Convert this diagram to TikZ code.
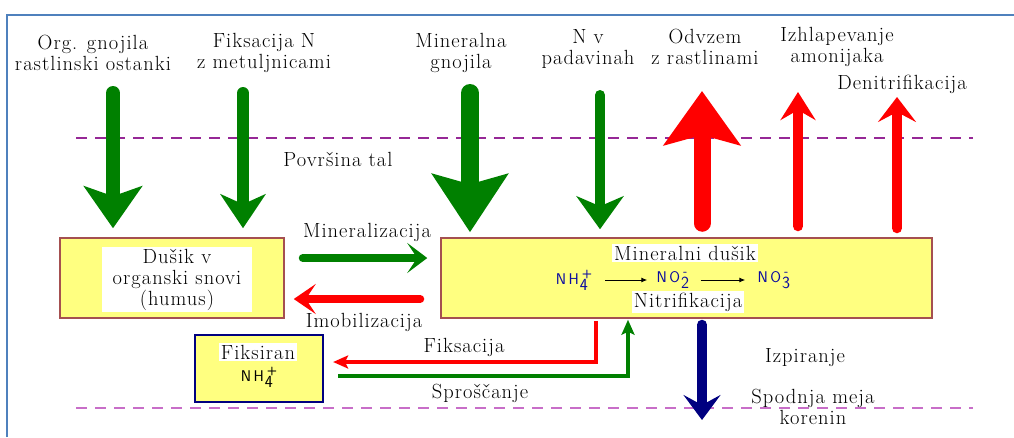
\documentclass[tikz,border=0pt]{standalone}
\usepackage{fontspec}
\setmainfont{Latin Modern Roman}[LetterSpace=5]
\usepackage{tikz}
\usetikzlibrary{arrows.meta,positioning,calc}
\definecolor{addgreen}{RGB}{0,128,0}
\definecolor{lossred}{RGB}{255,0,0}
\definecolor{leachblue}{RGB}{0,0,128}
\definecolor{poolyellow}{RGB}{255,255,128}
\definecolor{poolrim}{RGB}{165,80,80}
\definecolor{framecol}{RGB}{79,129,189}
\definecolor{surfline}{RGB}{150,40,150}
\definecolor{rootline}{RGB}{200,110,200}
\definecolor{ionblue}{RGB}{10,10,160}

\tikzset{
  lbl/.style={font=\fontsize{20.5}{21}\selectfont, align=center, inner sep=0pt},
  whitelbl/.style={lbl, fill=white, inner sep=2pt},
  pool/.style={draw=poolrim, line width=1.5pt, fill=poolyellow},
  ion/.style={font=\fontsize{15.5}{16}\selectfont\sffamily, text=ionblue, inner sep=1pt},
  fat/.style n args={4}{line width=#1pt, line cap=round, #2,
    -{Stealth[length=#3pt, width=#4pt, inset=10pt]}},
  thinflow/.style={line width=4pt, #1, -{Stealth[length=15pt, width=13pt, inset=3pt]}},
  soilline/.style={line width=#1, dash pattern=on 11pt off 8pt}
}
\newcommand{\ionf}[3]{#1\kern1pt\raisebox{-6pt}{\rlap{\fontsize{17}{17}\selectfont #2}}\raisebox{7pt}{\kern2pt\fontsize{12}{12}\selectfont\bfseries #3}\kern4pt}

\begin{document}
\begin{tikzpicture}[x=1pt, y=-1pt]
    \useasboundingbox (0,0) rectangle (1014,437);

    % frame
    \draw[framecol, line width=1.5pt] (7,437) -- (7,15) -- (1014,15);

    % soil surface and root limit
    \draw[surfline, soilline=1.8pt] (76,138) -- (973,138);
    \draw[rootline, soilline=1.5pt] (76,408) -- (973,408);

    % nitrogen pools
    \node[pool, minimum width=224pt, minimum height=80pt] (org) at (172,278) {};
    \node[whitelbl, minimum width=150pt, minimum height=65pt] (orgtxt) at (177,279.5)
        {Dušik v\\organski snovi\\(humus)};
    \node[pool, minimum width=491pt, minimum height=80pt] (min) at (686.5,278) {};
    \node[whitelbl] (mintxt) at (685,253) {Mineralni dušik};
    \node[whitelbl] (nitr) at (688,302) {Nitrifikacija};
    \node[ion] (nh) at (576,280) {\ionf{N\,H}{4}{+}};
    \node[ion] (nob) at (674,280) {\ionf{N\,O}{2}{-}};
    \node[ion] (noc) at (775,280) {\ionf{N\,O}{3}{-}};
    \draw[line width=1pt, -{Latex[length=6pt, width=5pt]}] ([xshift=8pt]nh.east) -- ([xshift=-8pt]nob.west);
    \draw[line width=1pt, -{Latex[length=6pt, width=5pt]}] ([xshift=8pt]nob.east) -- ([xshift=-11pt]noc.west);
    \node[draw=leachblue, line width=2.2pt, fill=poolyellow, minimum width=128pt, minimum height=67pt] (fix) at (259,368.5) {};
    \node[whitelbl] (fixtxt) at (258,352) {Fiksiran};
    \node[ion, text=black] (fixnh) at (261,377) {\ionf{N\,H}{4}{+}};

    % inputs
    \node[lbl] (orgin) at (93,52.5) {Org. gnojila\\rastlinski ostanki};
    \node[lbl] (legume) at (264,52.5) {Fiksacija N\\z metuljnicami};
    \node[lbl] (fert) at (461,52.5) {Mineralna\\gnojila};
    \node[lbl] (rain) at (588,49) {N v\\padavinah};
    \coordinate (a1) at (113,93);
    \coordinate (a2) at (243,93);
    \coordinate (a3) at (470,93);
    \coordinate (a4) at (600,95);
    \draw[fat={14}{addgreen}{42}{58}] (a1) -- ([yshift=9pt]org.north -| a1);
    \draw[fat={12}{addgreen}{34}{45}] (a2) -- ([yshift=9pt]org.north -| a2);
    \draw[fat={18}{addgreen}{58}{75}] (a3) -- ([yshift=5pt]min.north -| a3);
    \draw[fat={10}{addgreen}{33}{47}] (a4) -- ([yshift=8pt]min.north -| a4);

    % losses
    \node[lbl] (uptake) at (705,47) {Odvzem\\z rastlinami};
    \node[lbl] (volat) at (837,47) {Izhlapevanje\\amonijaka};
    \node[lbl] (denit) at (902,84) {Denitrifikacija};
    \coordinate (r1) at (702,91);
    \coordinate (r2) at (798,92);
    \coordinate (r3) at (897,97);
    \draw[fat={17}{lossred}{54}{76}] ([yshift=14pt]min.north -| r1) -- (r1);
    \draw[fat={10}{lossred}{28}{35}] ([yshift=11pt]min.north -| r2) -- (r2);
    \draw[fat={10}{lossred}{25}{38}] ([yshift=9pt]min.north -| r3) -- (r3);

    \node[lbl] (surf) at (338,159) {Površina tal};

    % exchange between pools
    \draw[fat={8}{addgreen}{20}{30}] ([xshift=18pt, yshift=20pt]org.east) -- ([xshift=-13pt, yshift=20pt]min.west);
    \draw[fat={8}{lossred}{22}{30}] ([xshift=-20pt, yshift=-21pt]min.west) -- ([xshift=9pt, yshift=-21pt]org.east);
    \node[lbl] (minz) at (367,232) {Mineralizacija};
    \node[lbl] (imob) at (364,322) {Imobilizacija};

    % fixation and release
    \coordinate (fxa) at (596,0);
    \coordinate (rel) at (628,0);
    \draw[thinflow=lossred] ([yshift=-2pt]min.south -| fxa) |- ([xshift=9pt, yshift=6.5pt]fix.east);
    \draw[thinflow=addgreen] ([xshift=14pt, yshift=-7.5pt]fix.east) -| ([yshift=-1pt]min.south -| rel);
    \node[lbl] (fixl) at (464,347) {Fiksacija};
    \node[lbl] (relz) at (480,393) {Sproščanje};

    % leaching
    \coordinate (lb) at (702,420);
    \draw[fat={10}{leachblue}{25}{37}] ([yshift=-6pt]min.south -| lb) -- (lb);
    \node[lbl] (leach) at (805,358) {Izpiranje};
    \node[lbl] (root) at (813,407) {Spodnja meja\\korenin};
\end{tikzpicture}
\end{document}
